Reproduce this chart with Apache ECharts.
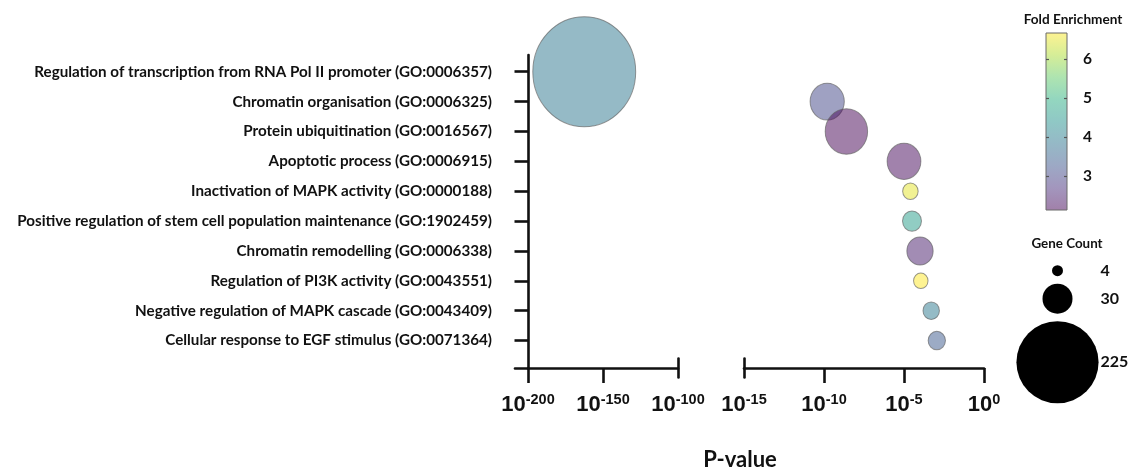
<!DOCTYPE html>
<html>
<head>
<meta charset="utf-8">
<script src="https://cdn.jsdelivr.net/npm/echarts@6/dist/echarts.min.js"></script>
<style>
  html, body { margin: 0; padding: 0; background: #fff; }
  #chart { width: 1140px; height: 475px; }
</style>
</head>
<body>
<div id="chart"></div>
<script>
// GO biological process terms, top to bottom
const terms = [
  'Regulation of transcription from RNA Pol II promoter (GO:0006357)',
  'Chromatin organisation (GO:0006325)',
  'Protein ubiquitination (GO:0016567)',
  'Apoptotic process (GO:0006915)',
  'Inactivation of MAPK activity (GO:0000188)',
  'Positive regulation of stem cell population maintenance (GO:1902459)',
  'Chromatin remodelling (GO:0006338)',
  'Regulation of PI3K activity (GO:0043551)',
  'Negative regulation of MAPK cascade (GO:0043409)',
  'Cellular response to EGF stimulus (GO:0071364)'
];
// log10 of the enrichment P-value
const log10P = [-162.5, -9.8, -8.6, -5.0, -4.6, -4.5, -4.0, -3.95, -3.3, -2.95];
const geneCount = [353, 39, 60, 38, 8, 12, 23, 7, 9, 10];
const foldEnrichment = [3.9, 3.05, 2.13, 2.2, 6.5, 4.6, 2.45, 6.68, 3.95, 3.35];

// broken P-value axis: two decade ranges
const leftRange = [-200, -100];
const rightRange = [-15, 0];
const leftTicks = [-200, -150, -100];
const rightTicks = [-15, -10, -5, 0];
const foldTicks = [3, 4, 5, 6];
const legendCounts = [4, 30, 225];

// viridis ramp drawn at half opacity
const viridis = [
  [68, 1, 84], [71, 45, 123], [59, 82, 139], [44, 114, 142], [33, 145, 140],
  [40, 174, 128], [94, 201, 98], [173, 220, 48], [253, 231, 37]
];
const rampColors = viridis.map(c => `rgba(${c[0]},${c[1]},${c[2]},0.5)`);

// bubble area proportional to gene count (30 genes -> 30 px)
const bubbleDiameter = n => Math.sqrt(30 * n);
const ASPECT = 1.07;

const foldMin = Math.min(...foldEnrichment);
const foldMax = Math.max(...foldEnrichment);

// layout
const L = {
  yAxisX: 528, leftW: 150,
  rightX: 744, rightW: 240,
  top: 56.8, plotH: 298.7,
  axisY: 368
};
const xOffset = L.axisY - (L.top + L.plotH);

const points = terms.map((t, i) => [log10P[i], i, foldEnrichment[i], geneCount[i], t]);
const inRange = (v, r) => v >= r[0] && v <= r[1];
const leftPoints = points.filter(p => inRange(p[0], leftRange));
const rightPoints = points.filter(p => inRange(p[0], rightRange));

const DARK = '#111';
const AXW = 2.6;
const tickFont = 'Liberation Sans, Arial, sans-serif';
const textFont = 'Lato, Open Sans, sans-serif';

const powLabel = {
  formatter: v => `{b|10}{s|${v}}`,
  margin: 24,
  rich: {
    b: { fontFamily: tickFont, fontWeight: 'bold', fontSize: 22, lineHeight: 24, color: DARK, verticalAlign: 'bottom' },
    s: { fontFamily: tickFont, fontWeight: 'bold', fontSize: 14.5, lineHeight: 15, color: DARK, verticalAlign: 'top' }
  }
};

const bubbleStyle = {
  borderColor: 'rgba(95,95,95,0.65)',
  borderWidth: 1,
  opacity: 1
};

function bubbleSize(val) {
  const d = bubbleDiameter(val[3]);
  return [d, d * ASPECT];
}

// gene count legend: circles stacked with a fixed gap
const legGap = 7.5;
const legendY = [];
legendCounts.forEach((n, i) => {
  const r = bubbleDiameter(n) / 2;
  if (i === 0) legendY.push(20.7);
  else legendY.push(legendY[i - 1] + bubbleDiameter(legendCounts[i - 1]) / 2 + legGap + r);
});

const hidden = { show: false };
const lineOnly = { show: true, onZero: false, lineStyle: { color: DARK, width: AXW } };

const gradient = {
  type: 'linear', x: 0, y: 1, x2: 0, y2: 0,
  colorStops: rampColors.map((c, i) => ({ offset: i / (rampColors.length - 1), color: c }))
};

const option = {
  backgroundColor: '#fff',
  animation: false,
  grid: [
    // 0: left panel
    { left: L.yAxisX, top: L.top, width: L.leftW, height: L.plotH },
    // 1: right panel
    { left: L.rightX, top: L.top, width: L.rightW, height: L.plotH },
    // 2: y axis line and the stub of the x axis left of it
    { left: 515, top: 55, width: L.yAxisX - 515, height: L.axisY - 55 },
    // 3, 4: break caps
    { left: L.yAxisX + L.leftW, top: L.axisY - 9.5, width: 1, height: 19 },
    { left: L.rightX, top: L.axisY - 9.5, width: 1, height: 19 },
    // 5: colour bar
    { left: 1046, top: 33, width: 21, height: 177, show: true, backgroundColor: gradient, borderColor: '#6a6a6a', borderWidth: 1 },
    // 6: gene count legend
    { left: 1000, top: 250, width: 115, height: 180 }
  ],
  xAxis: [
    {
      gridIndex: 0, type: 'value', min: leftRange[0], max: leftRange[1], interval: 50,
      position: 'bottom', offset: xOffset,
      axisLine: lineOnly,
      axisTick: { show: true, length: 15, customValues: leftTicks.slice(0, -1), lineStyle: { color: DARK, width: AXW } },
      axisLabel: Object.assign({ customValues: leftTicks }, powLabel),
      splitLine: hidden
    },
    {
      gridIndex: 1, type: 'value', min: rightRange[0], max: rightRange[1], interval: 5,
      position: 'bottom', offset: xOffset,
      axisLine: lineOnly,
      axisTick: { show: true, length: 15, customValues: rightTicks.slice(1), lineStyle: { color: DARK, width: AXW } },
      axisLabel: Object.assign({ customValues: rightTicks }, powLabel),
      splitLine: hidden
    },
    { gridIndex: 2, type: 'value', min: 0, max: 1, axisLine: lineOnly, axisTick: hidden, axisLabel: hidden, splitLine: hidden },
    { gridIndex: 3, type: 'value', show: false },
    { gridIndex: 4, type: 'value', show: false },
    { gridIndex: 5, type: 'value', show: false },
    { gridIndex: 6, type: 'value', min: 0, max: 1, show: false }
  ],
  yAxis: [
    {
      gridIndex: 0, type: 'category', data: terms, inverse: true,
      axisLine: hidden,
      axisTick: { show: true, alignWithLabel: true, length: 13.5, lineStyle: { color: DARK, width: AXW } },
      axisLabel: { margin: 36, fontFamily: textFont, fontWeight: 'bold', fontSize: 15.2, color: DARK },
      splitLine: hidden
    },
    { gridIndex: 1, type: 'category', data: terms, inverse: true, show: false },
    { gridIndex: 2, type: 'value', position: 'right', min: 0, max: 1, axisLine: lineOnly, axisTick: hidden, axisLabel: hidden, splitLine: hidden },
    { gridIndex: 3, type: 'value', min: 0, max: 1, axisLine: lineOnly, axisTick: hidden, axisLabel: hidden, splitLine: hidden },
    { gridIndex: 4, type: 'value', min: 0, max: 1, axisLine: lineOnly, axisTick: hidden, axisLabel: hidden, splitLine: hidden },
    {
      gridIndex: 5, type: 'value', position: 'left', min: foldMin, max: foldMax,
      axisLine: hidden,
      axisTick: { show: true, inside: true, length: 3, customValues: foldTicks, lineStyle: { color: '#555', width: 1.2 } },
      axisLabel: hidden, splitLine: hidden
    },
    {
      gridIndex: 5, type: 'value', position: 'right', min: foldMin, max: foldMax,
      axisLine: hidden,
      axisTick: { show: true, inside: true, length: 3, customValues: foldTicks, lineStyle: { color: '#555', width: 1.2 } },
      axisLabel: { customValues: foldTicks, margin: 16, fontFamily: textFont, fontWeight: 'bold', fontSize: 15.5, color: DARK },
      splitLine: hidden
    },
    { gridIndex: 6, type: 'value', min: 0, max: 180, inverse: true, show: false }
  ],
  visualMap: {
    show: false,
    type: 'continuous',
    seriesIndex: [0, 1],
    dimension: 2,
    min: foldMin,
    max: foldMax,
    inRange: { color: rampColors }
  },
  series: [
    {
      type: 'scatter', xAxisIndex: 0, yAxisIndex: 0,
      data: leftPoints, symbolSize: bubbleSize, itemStyle: bubbleStyle
    },
    {
      type: 'scatter', xAxisIndex: 1, yAxisIndex: 1,
      data: rightPoints, symbolSize: bubbleSize, itemStyle: bubbleStyle
    },
    {
      type: 'scatter', xAxisIndex: 6, yAxisIndex: 7,
      data: legendCounts.map((n, i) => [0.5, legendY[i], n]),
      symbolSize: v => bubbleDiameter(v[2]),
      itemStyle: { color: '#000', opacity: 1 },
      label: {
        show: true, position: 'inside', offset: [43, 0], align: 'left',
        formatter: p => String(p.value[2]),
        fontFamily: textFont, fontWeight: 'bold', fontSize: 16, color: DARK
      }
    }
  ],
  graphic: [
    { type: 'text', x: 740, y: 460, style: { text: 'P-value', fontFamily: textFont, fontWeight: 'bold', fontSize: 22, fill: DARK, align: 'center', verticalAlign: 'middle' } },
    { type: 'text', x: 1073, y: 20, style: { text: 'Fold Enrichment', fontFamily: textFont, fontWeight: 'bold', fontSize: 13.6, fill: DARK, align: 'center', verticalAlign: 'middle' } },
    { type: 'text', x: 1067, y: 244, style: { text: 'Gene Count', fontFamily: textFont, fontWeight: 'bold', fontSize: 13.4, fill: DARK, align: 'center', verticalAlign: 'middle' } }
  ]
};

const chart = echarts.init(document.getElementById('chart'), null, { renderer: 'canvas' });
chart.setOption(option);
</script>
</body>
</html>
